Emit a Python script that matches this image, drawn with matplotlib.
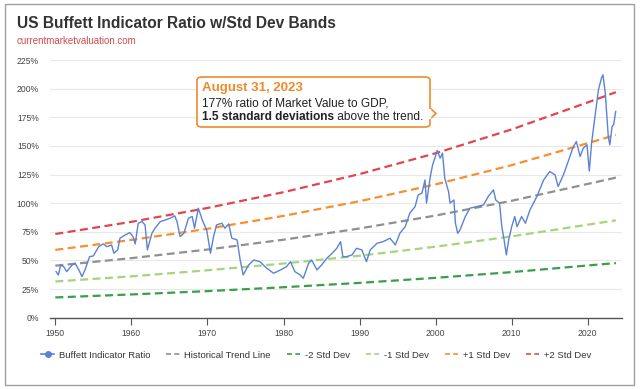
import matplotlib
matplotlib.use("Agg")
import matplotlib.pyplot as plt
from matplotlib.patches import FancyBboxPatch, Polygon, Rectangle
from matplotlib.lines import Line2D

plt.rcParams['font.family'] = ['Liberation Sans', 'DejaVu Sans']

# --- data ---
ratio_years = [1950.1, 1950.4, 1950.7, 1951.1, 1951.5, 1952.2, 1952.6, 1953.1, 1953.5, 1953.9,
               1954.5, 1955.0, 1955.7, 1956.3, 1956.8, 1957.4, 1957.7, 1958.2, 1958.5, 1959.2,
               1959.8, 1960.2, 1960.5, 1960.9, 1961.4, 1961.8, 1962.1, 1962.7, 1963.1, 1963.8,
               1964.5, 1965.1, 1965.7, 1966.0, 1966.4, 1966.9, 1967.5, 1968.0, 1968.3, 1968.8,
               1969.4, 1969.9, 1970.4, 1970.8, 1971.2, 1971.9, 1972.3, 1972.8, 1973.2, 1973.9,
               1974.3, 1974.7, 1975.4, 1976.1, 1976.9, 1977.8, 1978.7, 1979.6, 1980.4, 1980.9,
               1981.5, 1982.2, 1982.6, 1983.3, 1983.7, 1984.4, 1985.0, 1985.7, 1986.4, 1987.0,
               1987.5, 1987.8, 1988.3, 1989.0, 1989.6, 1990.3, 1990.9, 1991.4, 1992.3, 1993.1,
               1994.0, 1994.7, 1995.3, 1996.0, 1996.6, 1997.3, 1997.7, 1998.2, 1998.6, 1998.8,
               1999.3, 1999.6, 1999.9, 2000.2, 2000.6, 2000.9, 2001.2, 2001.7, 2001.9, 2002.4,
               2002.6, 2002.9, 2003.2, 2003.9, 2004.5, 2005.4, 2006.3, 2006.9, 2007.6, 2007.9,
               2008.4, 2008.7, 2009.0, 2009.3, 2009.6, 2010.0, 2010.4, 2010.7, 2011.3, 2011.8,
               2012.4, 2013.3, 2014.2, 2015.0, 2015.7, 2016.1, 2016.8, 2017.5, 2018.1, 2018.5,
               2019.0, 2019.4, 2019.9, 2020.2, 2020.5, 2021.0, 2021.4, 2021.8, 2022.0, 2022.3,
               2022.7, 2022.9, 2023.2, 2023.4, 2023.67]
ratio_values = [40.2, 37.3, 46.0, 44.6, 40.2, 46.0, 47.5, 41.7, 35.8, 41.7,
                53.3, 53.9, 62.0, 64.4, 62.0, 63.5, 56.3, 59.2, 69.4, 72.3,
                74.3, 70.8, 64.4, 82.5, 83.9, 81.0, 59.2, 73.7, 78.1, 83.9,
                85.4, 86.9, 88.9, 83.9, 70.8, 73.7, 86.9, 88.3, 78.1, 95.6,
                83.9, 76.6, 56.3, 70.8, 81.0, 82.5, 78.1, 81.9, 69.4, 67.9,
                50.4, 37.3, 46.0, 50.4, 48.9, 43.2, 38.8, 41.7, 44.6, 48.9,
                40.2, 37.3, 34.4, 47.5, 50.4, 41.7, 46.0, 51.9, 56.3, 60.6,
                66.4, 53.3, 53.3, 54.8, 60.6, 59.2, 48.9, 59.2, 65.0, 66.4,
                69.4, 63.5, 73.7, 79.5, 91.2, 97.0, 107.2, 108.7, 120.3, 100.0,
                123.2, 133.4, 139.3, 146.0, 139.3, 143.7, 121.8, 110.0, 100.0, 102.8,
                82.5, 73.7, 76.6, 88.3, 95.6, 97.0, 98.5, 105.7, 111.6, 102.8,
                100.0, 79.5, 67.9, 54.8, 67.9, 79.5, 88.3, 79.5, 88.3, 82.5,
                94.1, 105.7, 120.3, 127.6, 124.7, 114.5, 124.7, 137.8, 149.4, 153.8,
                140.7, 148.0, 150.9, 128.0, 152.4, 178.6, 199.0, 209.2, 212.1, 196.1,
                158.0, 151.0, 167.0, 168.4, 180.0]

band_years = [1950, 1960, 1970, 1980, 1990, 2000, 2010, 2020, 2023.7]
trend = [45.4, 52.0, 59.5, 68.1, 77.9, 89.2, 102.1, 116.8, 122.3]
minus2 = [17.7, 20.3, 23.2, 26.6, 30.4, 34.8, 39.8, 45.6, 47.7]
minus1 = [31.6, 36.1, 41.4, 47.3, 54.1, 62.0, 71.0, 81.2, 85.0]
plus1 = [59.2, 67.9, 77.6, 88.9, 101.7, 116.4, 133.2, 152.4, 159.6]
plus2 = [73.1, 83.7, 95.8, 109.6, 125.4, 143.6, 164.4, 188.0, 196.9]

x_ticks = [1950, 1960, 1970, 1980, 1990, 2000, 2010, 2020]
y_ticks = [0, 25, 50, 75, 100, 125, 150, 175, 200, 225]

W, H = 640, 389


def fx(px):
    return px / W


def fy(py):
    return 1 - py / H


fig = plt.figure(figsize=(6.4, 3.89), dpi=100)
fig.patch.set_facecolor('white')

# outer frame
fig.patches.append(Rectangle((fx(5), fy(385)), fx(629), 381 / H, transform=fig.transFigure,
                             fill=False, edgecolor='#a0a0a0', linewidth=1.0))

ax = fig.add_axes([fx(50), fy(317.7), fx(572), (317.7 - 60) / H])

dash = (0, (3.6, 2.0))
ax.plot(band_years, plus2, color='#e0474c', lw=1.6, linestyle=dash)
ax.plot(band_years, plus1, color='#f7902f', lw=1.6, linestyle=dash)
ax.plot(band_years, trend, color='#909090', lw=1.6, linestyle=dash)
ax.plot(band_years, minus1, color='#a3d67c', lw=1.6, linestyle=dash)
ax.plot(band_years, minus2, color='#3a9e4a', lw=1.6, linestyle=dash)
ax.plot(ratio_years, ratio_values, color='#5b82d6', lw=1.0)

ax.set_xlim(1949.3, 2024.5)
ax.set_ylim(0, 225)
ax.set_yticks(y_ticks)
ax.set_yticklabels([f'{v}%' for v in y_ticks])
ax.set_xticks(x_ticks)
ax.grid(axis='y', color='#e8e8e8', lw=0.8)
ax.set_axisbelow(True)
for s in ['top', 'right', 'left']:
    ax.spines[s].set_visible(False)
ax.spines['bottom'].set_color('#555555')
ax.spines['bottom'].set_linewidth(1.0)
ax.tick_params(axis='y', length=0, pad=8, labelsize=6.2, labelcolor='#444444')
ax.tick_params(axis='x', length=5, width=0.8, color='#555555', pad=3,
               labelsize=6.2, labelcolor='#444444')

# title
fig.text(fx(17), fy(23), 'US Buffett Indicator Ratio w/Std Dev Bands', fontsize=11.2,
         fontweight='bold', color='#333333', va='center', ha='left')
fig.text(fx(17), fy(41), 'currentmarketvaluation.com', fontsize=7, color='#d24b4b',
         va='center', ha='left')

# annotation box
box = FancyBboxPatch((fx(197), fy(127)), fx(233), 50 / H, transform=fig.transFigure,
                     boxstyle='round,pad=0,rounding_size=0.008', facecolor='white',
                     edgecolor='#f08a2c', linewidth=1.2, zorder=5)
fig.patches.append(box)
tri = Polygon([(fx(430), fy(108)), (fx(436), fy(113.5)), (fx(430), fy(119))], closed=False,
              transform=fig.transFigure, facecolor='white', edgecolor='#f08a2c',
              linewidth=1.2, zorder=6)
fig.patches.append(tri)
fig.lines.append(Line2D([fx(430), fx(430)], [fy(109.5), fy(117.5)], transform=fig.transFigure,
                        color='white', lw=1.6, zorder=7))

fig.text(fx(202), fy(87.5), 'August 31, 2023', fontsize=9.5, fontweight='bold',
         color='#f08a2c', va='center', ha='left', zorder=8)
fig.text(fx(202), fy(103), '177% ratio of Market Value to GDP,', fontsize=8.6,
         color='#222222', va='center', ha='left', zorder=8)
t_bold = fig.text(fx(202), fy(116.5), '1.5 standard deviations', fontsize=8.6,
                  fontweight='bold', color='#222222', va='center', ha='left', zorder=8)
renderer = fig.canvas.get_renderer()
bb = t_bold.get_window_extent(renderer=renderer)
fig.text(bb.x1 / W, fy(116.5), ' above the trend.', fontsize=8.6,
         color='#222222', va='center', ha='left', zorder=8)

# legend
handles = [
    Line2D([], [], color='#5b82d6', lw=1.2, marker='o', markersize=4),
    Line2D([], [], color='#909090', lw=1.2, linestyle=(0, (3, 2))),
    Line2D([], [], color='#3a9e4a', lw=1.2, linestyle=(0, (3, 2))),
    Line2D([], [], color='#a3d67c', lw=1.2, linestyle=(0, (3, 2))),
    Line2D([], [], color='#f7902f', lw=1.2, linestyle=(0, (3, 2))),
    Line2D([], [], color='#e0474c', lw=1.2, linestyle=(0, (3, 2))),
]
labels = ['Buffett Indicator Ratio', 'Historical Trend Line', '-2 Std Dev',
          '-1 Std Dev', '+1 Std Dev', '+2 Std Dev']
fig.legend(handles, labels, loc='center', bbox_to_anchor=(fx(316), fy(355)), ncol=6,
           frameon=False, fontsize=6.8, handlelength=1.4, handletextpad=0.5,
           columnspacing=1.7, labelcolor='#333333')

fig.savefig('out.png', dpi=100)
